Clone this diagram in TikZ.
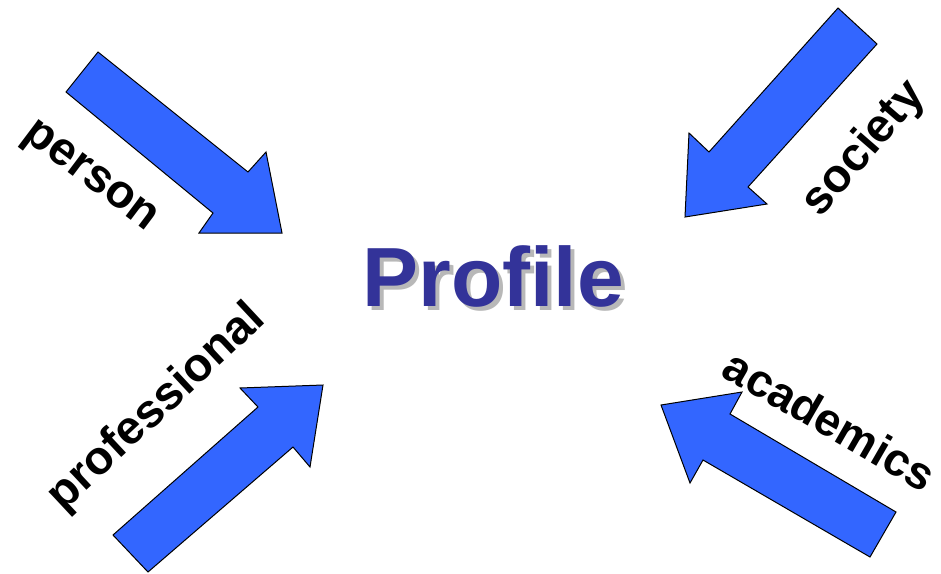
\documentclass[tikz,border=0pt]{standalone}
\usepackage{fontspec}
\setmainfont{Liberation Sans}
\definecolor{arrowblue}{HTML}{3366FF}
\definecolor{profblue}{HTML}{333399}
\definecolor{shadowgray}{HTML}{B8B8B8}
\begin{document}
\begin{tikzpicture}[x=1pt,y=-1pt,
  blockarrow/.style={fill=arrowblue,draw=black,line width=1pt,line join=miter},
  lbl/.style={font=\fontsize{47}{47}\selectfont\bfseries,inner sep=0pt,anchor=center},
  title/.style={font=\fontsize{84}{84}\selectfont\bfseries,inner sep=0pt,anchor=base}]
\useasboundingbox (0,0) rectangle (941,573);
% person arrow
\draw[blockarrow] (98,52) -- (248,172) -- (266,152) -- (282,233) -- (199,233) -- (213,213) -- (66,92) -- cycle;
% society arrow
\draw[blockarrow] (838,8) -- (877,44) -- (748,187) -- (767,204) -- (685,217) -- (689,133) -- (709,152) -- cycle;
% professional arrow
\draw[blockarrow] (113,535) -- (258,407) -- (240,388) -- (323,385) -- (310,467) -- (293,447) -- (148,572) -- cycle;
% academics arrow
\draw[blockarrow] (896,512) -- (730,414) -- (742,392) -- (661,405) -- (690,483) -- (703,460) -- (870,557) -- cycle;
% labels
\node[lbl,rotate=-37] (person) at (89,178) {person};
\node[lbl,rotate=49] (society) at (864,149) {society};
\node[lbl,rotate=43] (professional) at (157,408) {professional};
\node[lbl,rotate=-30,font=\fontsize{46}{46}\selectfont\bfseries] (academics) at (830,420) {academics};
% title
\node[title,text=shadowgray] (profshadow) at (497,310) {Profile};
\node[title,text=profblue] (profile) at (493,306) {Profile};
\end{tikzpicture}
\end{document}
